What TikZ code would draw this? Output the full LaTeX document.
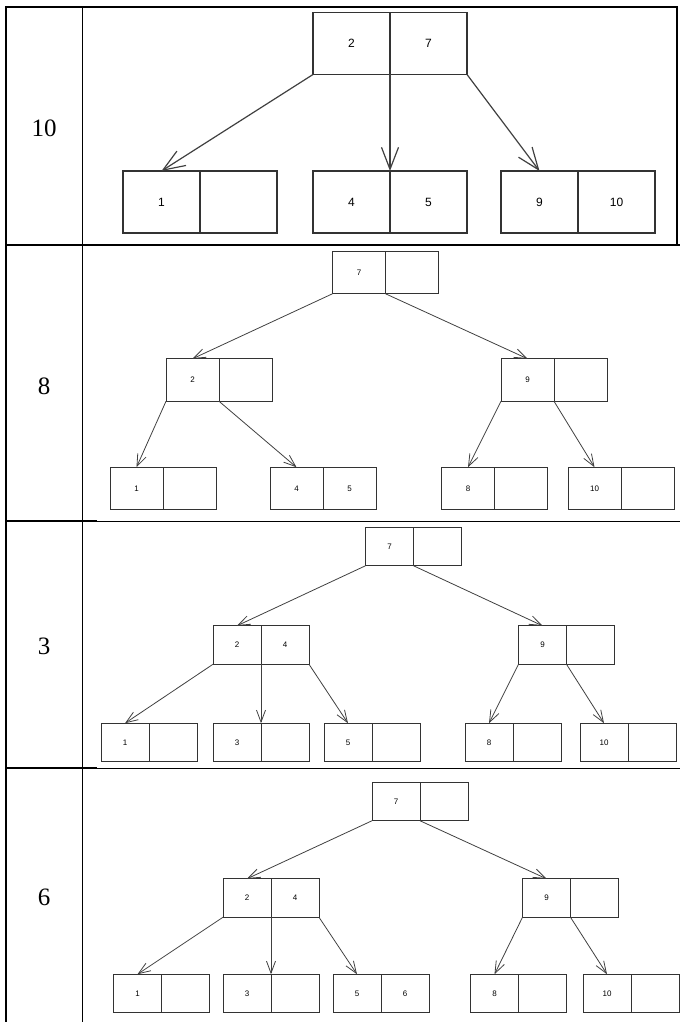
\documentclass[tikz,border=0pt]{standalone}
\usepackage{fontspec}
\setmainfont{Liberation Serif}
\setsansfont{Liberation Sans}
\usetikzlibrary{positioning,arrows.meta}

\begin{document}
\begin{tikzpicture}[
    x=1pt, y=-1pt,
    bigcell/.style={rectangle, draw=black!80, line width=1.1pt, minimum width=77pt, minimum height=62pt, inner sep=0pt, outer sep=0pt, font=\sffamily\fontsize{12}{14}\selectfont},
    midcell/.style={rectangle, draw=black!80, line width=0.8pt, minimum width=53pt, minimum height=42.5pt, inner sep=0pt, outer sep=0pt, font=\sffamily\fontsize{8}{10}\selectfont},
    cell/.style={rectangle, draw=black!80, line width=0.8pt, minimum width=48pt, minimum height=38.5pt, inner sep=0pt, outer sep=0pt, font=\sffamily\fontsize{8}{10}\selectfont},
    rowkey/.style={font=\fontsize{25}{30}\selectfont},
    bigarrow/.style={-{Straight Barb[length=22pt, width=17pt]}, line width=1.2pt, black!75},
    arrow/.style={-{Straight Barb[length=12pt, width=9pt]}, line width=0.8pt, black!75},
    frame/.style={line width=1.6pt},
    thinframe/.style={line width=0.9pt}
]

\useasboundingbox (0,0) rectangle (680,1022);

% Table
\draw[frame] (6,1022) -- (6,7) -- (677,7) -- (677,245);
\draw[frame] (82.5,7) -- (82.5,1022);
\draw[frame] (6,245) -- (680,245);
\draw[frame] (6,521) -- (97,521);
\draw[thinframe] (97,521) -- (680,521);
\draw[frame] (6,768) -- (97,768);
\draw[thinframe] (97,768) -- (680,768);

% Keys
\node[rowkey] (key10) at (44,128) {10};
\node[rowkey] (key8) at (44,386) {8};
\node[rowkey] (key3) at (44,646) {3};
\node[rowkey] (key6) at (44,897) {6};

% Row 1
\node[bigcell] (r1_root_l) at (351.5,43.5) {2};
\node[bigcell, right=0pt of r1_root_l] (r1_root_r) {7};
\node[bigcell] (r1_leaf1_l) at (161.5,202) {1};
\node[bigcell, right=0pt of r1_leaf1_l] (r1_leaf1_r) {};
\node[bigcell] (r1_leaf2_l) at (351.5,202) {4};
\node[bigcell, right=0pt of r1_leaf2_l] (r1_leaf2_r) {5};
\node[bigcell] (r1_leaf3_l) at (539.5,202) {9};
\node[bigcell, right=0pt of r1_leaf3_l] (r1_leaf3_r) {10};

\draw[bigarrow] (r1_root_l.south west) -- (r1_leaf1_l.north);
\draw[bigarrow] (r1_root_l.south east) -- (r1_leaf2_l.north east);
\draw[bigarrow] (r1_root_r.south east) -- (r1_leaf3_l.north);

% Row 2
\node[midcell] (r2_root_l) at (359,272.5) {7};
\node[midcell, right=0pt of r2_root_l] (r2_root_r) {};
\node[midcell] (r2_mid1_l) at (192.5,380) {2};
\node[midcell, right=0pt of r2_mid1_l] (r2_mid1_r) {};
\node[midcell] (r2_mid2_l) at (527.5,380) {9};
\node[midcell, right=0pt of r2_mid2_l] (r2_mid2_r) {};
\node[midcell] (r2_leaf1_l) at (136.5,488.5) {1};
\node[midcell, right=0pt of r2_leaf1_l] (r2_leaf1_r) {};
\node[midcell] (r2_leaf2_l) at (296.5,488.5) {4};
\node[midcell, right=0pt of r2_leaf2_l] (r2_leaf2_r) {5};
\node[midcell] (r2_leaf3_l) at (468,488.5) {8};
\node[midcell, right=0pt of r2_leaf3_l] (r2_leaf3_r) {};
\node[midcell] (r2_leaf4_l) at (594.5,488.5) {10};
\node[midcell, right=0pt of r2_leaf4_l] (r2_leaf4_r) {};

\draw[arrow] (r2_root_l.south west) -- (r2_mid1_l.north);
\draw[arrow] (r2_root_l.south east) -- (r2_mid2_l.north);
\draw[arrow] (r2_mid1_l.south west) -- (r2_leaf1_l.north);
\draw[arrow] (r2_mid1_l.south east) -- (r2_leaf2_l.north);
\draw[arrow] (r2_mid2_l.south west) -- (r2_leaf3_l.north);
\draw[arrow] (r2_mid2_l.south east) -- (r2_leaf4_l.north);

% Row 3
\node[cell] (r3_root_l) at (389.5,546.5) {7};
\node[cell, right=0pt of r3_root_l] (r3_root_r) {};
\node[cell] (r3_mid1_l) at (237,645) {2};
\node[cell, right=0pt of r3_mid1_l] (r3_mid1_r) {4};
\node[cell] (r3_mid2_l) at (542.5,645) {9};
\node[cell, right=0pt of r3_mid2_l] (r3_mid2_r) {};
\node[cell] (r3_leaf1_l) at (125,742.5) {1};
\node[cell, right=0pt of r3_leaf1_l] (r3_leaf1_r) {};
\node[cell] (r3_leaf2_l) at (237,742.5) {3};
\node[cell, right=0pt of r3_leaf2_l] (r3_leaf2_r) {};
\node[cell] (r3_leaf3_l) at (348,742.5) {5};
\node[cell, right=0pt of r3_leaf3_l] (r3_leaf3_r) {};
\node[cell] (r3_leaf4_l) at (489,742.5) {8};
\node[cell, right=0pt of r3_leaf4_l] (r3_leaf4_r) {};
\node[cell] (r3_leaf5_l) at (604,742.5) {10};
\node[cell, right=0pt of r3_leaf5_l] (r3_leaf5_r) {};

\draw[arrow] (r3_root_l.south west) -- (r3_mid1_l.north);
\draw[arrow] (r3_root_l.south east) -- (r3_mid2_l.north);
\draw[arrow] (r3_mid1_l.south west) -- (r3_leaf1_l.north);
\draw[arrow] (r3_mid1_l.south east) -- (r3_leaf2_l.north east);
\draw[arrow] (r3_mid1_r.south east) -- (r3_leaf3_l.north);
\draw[arrow] (r3_mid2_l.south west) -- (r3_leaf4_l.north);
\draw[arrow] (r3_mid2_l.south east) -- (r3_leaf5_l.north);

% Row 4
\node[cell] (r4_root_l) at (396,801.5) {7};
\node[cell, right=0pt of r4_root_l] (r4_root_r) {};
\node[cell] (r4_mid1_l) at (247,898) {2};
\node[cell, right=0pt of r4_mid1_l] (r4_mid1_r) {4};
\node[cell] (r4_mid2_l) at (546.5,898) {9};
\node[cell, right=0pt of r4_mid2_l] (r4_mid2_r) {};
\node[cell] (r4_leaf1_l) at (137.5,993.5) {1};
\node[cell, right=0pt of r4_leaf1_l] (r4_leaf1_r) {};
\node[cell] (r4_leaf2_l) at (247,993.5) {3};
\node[cell, right=0pt of r4_leaf2_l] (r4_leaf2_r) {};
\node[cell] (r4_leaf3_l) at (357,993.5) {5};
\node[cell, right=0pt of r4_leaf3_l] (r4_leaf3_r) {6};
\node[cell] (r4_leaf4_l) at (494.5,993.5) {8};
\node[cell, right=0pt of r4_leaf4_l] (r4_leaf4_r) {};
\node[cell] (r4_leaf5_l) at (607,993.5) {10};
\node[cell, right=0pt of r4_leaf5_l] (r4_leaf5_r) {};

\draw[arrow] (r4_root_l.south west) -- (r4_mid1_l.north);
\draw[arrow] (r4_root_l.south east) -- (r4_mid2_l.north);
\draw[arrow] (r4_mid1_l.south west) -- (r4_leaf1_l.north);
\draw[arrow] (r4_mid1_l.south east) -- (r4_leaf2_l.north east);
\draw[arrow] (r4_mid1_r.south east) -- (r4_leaf3_l.north);
\draw[arrow] (r4_mid2_l.south west) -- (r4_leaf4_l.north);
\draw[arrow] (r4_mid2_l.south east) -- (r4_leaf5_l.north);

\end{tikzpicture}
\end{document}
